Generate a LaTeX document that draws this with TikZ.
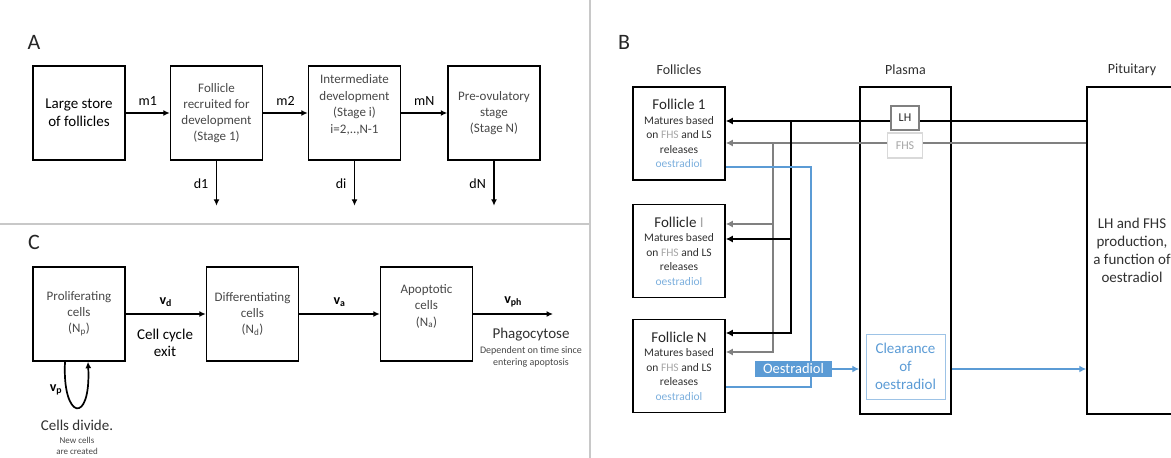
\documentclass[tikz,border=0pt]{standalone}
\usepackage{fontspec}
\setmainfont{Carlito}
\usetikzlibrary{arrows.meta}
\definecolor{boxtxt}{HTML}{474747}
\definecolor{darktxt}{HTML}{303030}
\definecolor{oblue}{HTML}{5B9BD5}
\definecolor{paleblue}{HTML}{9DC3E6}
\definecolor{sepgray}{HTML}{C8C8C8}
\definecolor{fhsgray}{HTML}{A6A6A6}
\newcommand{\setfs}[2]{\fontsize{#1}{#2}\selectfont}
\begin{document}
\begin{tikzpicture}[x=1pt,y=-1pt,
  stage/.style={draw,line width=1.5pt,minimum width=92pt,minimum height=94pt,align=center,text=boxtxt,font=\setfs{13}{16}},
  boxtext/.style={align=center,text=boxtxt,font=\setfs{13}{16.5}},
  flow/.style={line width=1.7pt,-{Latex[length=6.5pt,width=6pt]}},
  rate/.style={font=\setfs{14}{16}},
  panel/.style={text=black!85,font=\setfs{22}{24}},
  head/.style={text=darktxt,font=\setfs{14}{16}},
  follicle/.style={draw,line width=1.5pt,minimum width=92pt,minimum height=93pt,align=center,text=darktxt,font=\setfs{11.5}{14.5}},
  tall/.style={draw,line width=1.5pt,minimum height=327pt,align=center,text=darktxt,font=\setfs{15}{18}},
  lhline/.style={line width=1.7pt,-{Latex[length=7pt,width=7pt]}},
  fhsline/.style={line width=1.7pt,gray,-{Latex[length=7pt,width=7pt]}},
  oline/.style={line width=1.7pt,oblue},
  oflow/.style={line width=1.7pt,oblue,-{Latex[length=7pt,width=7pt]}},
  sep/.style={line width=2pt,sepgray}]
\useasboundingbox (0,0) rectangle (1171,458);
\clip (0,0) rectangle (1171,458);
% separators
\draw[sep] (0,224) -- (590,224);
\draw[sep] (590,0) -- (590,458);

% A: follicle stages
\node[panel] (labA) at (34,42) {A};
\node[stage,text=black,font=\setfs{15}{18}] (store) at (79,113) {Large store\\of follicles};
\node[stage] (st1) at (216.5,113) {Follicle\\recruited for\\development\\(Stage 1)};
\node[stage] (sti) at (354.5,113) {};
\node[boxtext] (stitxt) at ([yshift=8pt]sti.center) {Intermediate\\development\\(Stage i)\\i=2,..,N-1};
\node[stage] (stN) at (494,113) {Pre-ovulatory\\stage\\(Stage N)};
\draw[flow] (store) -- (st1) node[midway,above=3pt,rate] {m1};
\draw[flow] (st1) -- (sti) node[midway,above=3pt,rate] {m2};
\draw[flow] (sti) -- (stN) node[midway,above=3pt,rate] {mN};
\foreach \s/\d in {st1/d1,sti/di,stN/dN}{
  \coordinate (\s-out) at ([yshift=-45pt]\s.south);
  \draw[flow] (\s.south) -- (\s-out) node[midway,left=4pt,rate] {\d};
}

% C: cell populations
\node[panel] (labC) at (34,242) {C};
\node[stage] (prolif) at (79,314) {Proliferating\\cells\\(N\textsubscript{p})};
\node[stage] (diff) at (252.5,314) {Differentiating\\cells\\(N\textsubscript{d})};
\node[stage] (apop) at (426.5,314) {};
\node[boxtext] (apoptxt) at ([yshift=8pt]apop.center) {Apoptotic\\cells\\(N\textsubscript{a})};
\coordinate (phend) at (553,314);
\draw[flow] (prolif) -- (diff) node[midway,above=3pt,rate] {\textbf{v\textsubscript{d}}};
\draw[flow] (diff) -- (apop) node[midway,above=3pt,rate] {\textbf{v\textsubscript{a}}};
\draw[flow] (apop) -- (phend) node[midway,above=3pt,rate] {\textbf{v\textsubscript{ph}}};
\node[align=center,font=\setfs{15}{17}] (exit) at (165,343) {Cell cycle\\exit};
\node[text=darktxt,font=\setfs{15}{17}] (phago) at (531,335) {Phagocytose};
\node[align=center,text=boxtxt,font=\setfs{10}{11.5}] (phnote) at (531,357) {Dependent on time since\\entering apoptosis};
\draw[flow] ([xshift=-14pt]prolif.south) .. controls +(-3,58) and +(3,64) .. ([xshift=9pt]prolif.south);
\node[rate] (vp) at (56,390) {\textbf{v\textsubscript{p}}};
\node[text=darktxt,font=\setfs{15}{17}] (divide) at (77,425) {Cells divide.};
\node[align=center,text=boxtxt,font=\setfs{9}{11}] (newcells) at (77,446) {New cells\\are created};

% B: follicles, plasma, pituitary
\node[panel] (labB) at (624,42) {B};
\node[head] (hfol) at (679,70) {Follicles};
\node[head] (hpla) at (905.5,70) {Plasma};
\node[head] (hpit) at (1132,70) {Pituitary};
\node[follicle] (f1) at (679,133.5) {{\setfs{15}{17}\color{black!85}Follicle 1}\\Matures based\\on {\color{fhsgray}FHS} and LS\\releases\\{\color{oblue!80}oestradiol}};
\node[follicle] (fI) at (679,251) {{\setfs{15}{17}\color{black!85}Follicle {\color{fhsgray}I}}\\Matures based\\on {\color{fhsgray}FHS} and LS\\releases\\{\color{oblue!80}oestradiol}};
\node[follicle] (fN) at (679,366) {{\setfs{15}{17}\color{black!85}Follicle N}\\Matures based\\on {\color{fhsgray}FHS} and LS\\releases\\{\color{oblue!80}oestradiol}};
\node[tall,minimum width=91pt] (plasma) at (905.5,250.5) {};
\node[tall,minimum width=90pt] (pitu) at (1132,250.5) {LH and FHS\\production,\\a function of\\oestradiol};
\node[draw=paleblue,line width=1pt,minimum width=79pt,minimum height=65pt,align=center,text=oblue,font=\setfs{15}{18}] (clear) at (905.5,366.5) {Clearance\\of\\oestradiol};

% hormone lines
\draw[fhsline] ([yshift=107.5pt]pitu.west) -- ([yshift=-9.5pt]f1.east);
\draw[fhsline] ([xshift=47pt,yshift=-9.5pt]f1.east) |- ([yshift=14pt]fN.east);
\draw[fhsline] ([xshift=47pt,yshift=27pt]fI.east) -- ([yshift=27pt]fI.east);
\draw[lhline] ([yshift=129.5pt]pitu.west) -- ([yshift=12.5pt]f1.east);
\draw[lhline] ([xshift=65pt,yshift=12.5pt]f1.east) |- ([yshift=33pt]fN.east);
\draw[lhline] ([xshift=65pt,yshift=12pt]fI.east) -- ([yshift=12pt]fI.east);
\node[draw=gray,line width=1.2pt,fill=white,minimum width=28pt,minimum height=24pt,text=black!85,font=\setfs{12}{14}] (lh) at (905,118) {LH};
\node[draw=black!15,line width=1.2pt,fill=white,minimum width=35pt,minimum height=25pt,text=fhsgray,font=\setfs{12}{14}] (fhs) at (905,145.5) {FHS};

% oestradiol
\draw[oline] ([yshift=-33.5pt]f1.east) -| ([xshift=85pt,yshift=-21pt]fN.east) -- ([yshift=-21pt]fN.east);
\node[fill=oblue,text=white,inner sep=1pt,minimum width=77pt,minimum height=16pt,font=\setfs{14.5}{16}] (oest) at (793.5,369) {Oestradiol};
\draw[oflow] (oest.east) -- (oest.east -| plasma.west);
\draw[oflow] (oest.east -| plasma.east) -- (oest.east -| pitu.west);
\end{tikzpicture}
\end{document}
